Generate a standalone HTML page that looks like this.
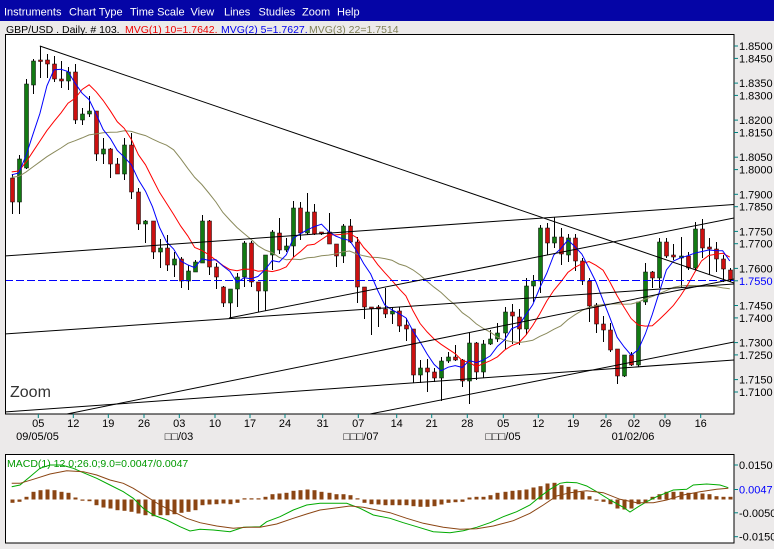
<!DOCTYPE html>
<html><head><meta charset="utf-8">
<style>
html,body{margin:0;padding:0;background:#ECEAEA;width:774px;height:549px;overflow:hidden}
svg{display:block}
text{font-family:"Liberation Sans",Arial,"DejaVu Sans",sans-serif}
</style></head><body>
<svg id="c" width="774" height="549" viewBox="0 0 774 549" xmlns="http://www.w3.org/2000/svg">
<defs>
<clipPath id="pc"><rect x="6" y="35" width="728" height="379"/></clipPath>
<clipPath id="mc"><rect x="6" y="455" width="728" height="88"/></clipPath>
</defs>
<rect x="0" y="0" width="774" height="549" fill="#ECEAEA"/>
<rect x="0" y="0" width="774" height="21" fill="#0505A6"/>
<g font-size="11" fill="#ffffff">
<text x="4" y="15.5">Instruments</text>
<text x="69" y="15.5">Chart Type</text>
<text x="130" y="15.5">Time Scale</text>
<text x="190.5" y="15.5">View</text>
<text x="224" y="15.5">Lines</text>
<text x="258.5" y="15.5">Studies</text>
<text x="302" y="15.5">Zoom</text>
<text x="337" y="15.5">Help</text>
</g>
<g font-size="10.5">
<text x="6" y="33" fill="#000">GBP/USD . Daily. # 103.</text>
<text x="125" y="33" fill="#ee0000">MVG(1) 10=1.7642.</text>
<text x="221" y="33" fill="#0000ee">MVG(2) 5=1.7627.</text>
<text x="309" y="33" fill="#808058">MVG(3) 22=1.7514</text>
</g>

<!-- main plot -->
<rect x="5.5" y="34.5" width="728.5" height="379.5" fill="#ffffff" stroke="#000" stroke-width="1"/>
<g clip-path="url(#pc)">
<g id="candles"></g>
<g id="mas"></g>
<line x1="5" y1="280.5" x2="734" y2="280.5" stroke="#0000ff" stroke-width="1" stroke-dasharray="8,3"/>
<g stroke="#000" stroke-width="1" fill="none">
<line x1="39.8" y1="46" x2="734" y2="283"/>
<line x1="5" y1="256" x2="734" y2="204.5"/>
<line x1="5" y1="334" x2="734" y2="284"/>
<line x1="5" y1="412" x2="734" y2="360"/>
<line x1="370" y1="414" x2="734" y2="342"/>
<line x1="67" y1="414" x2="734" y2="279"/>
<line x1="229" y1="318" x2="734" y2="218"/>
</g>
</g>
<text x="10" y="397" font-size="16" fill="#333">Zoom</text>

<!-- price axis -->
<g stroke="#008080" stroke-width="1">
<line x1="734" y1="46" x2="738" y2="46"/><line x1="734" y1="58.4" x2="738" y2="58.4"/>
<line x1="734" y1="83.1" x2="738" y2="83.1"/><line x1="734" y1="95.4" x2="738" y2="95.4"/>
<line x1="734" y1="120.1" x2="738" y2="120.1"/><line x1="734" y1="132.5" x2="738" y2="132.5"/>
<line x1="734" y1="157.2" x2="738" y2="157.2"/><line x1="734" y1="169.6" x2="738" y2="169.6"/>
<line x1="734" y1="194.3" x2="738" y2="194.3"/><line x1="734" y1="206.7" x2="738" y2="206.7"/>
<line x1="734" y1="231.4" x2="738" y2="231.4"/><line x1="734" y1="243.7" x2="738" y2="243.7"/>
<line x1="734" y1="268.4" x2="738" y2="268.4"/><line x1="734" y1="280.8" x2="738" y2="280.8"/>
<line x1="734" y1="305.5" x2="738" y2="305.5"/><line x1="734" y1="317.9" x2="738" y2="317.9"/>
<line x1="734" y1="342.6" x2="738" y2="342.6"/><line x1="734" y1="354.9" x2="738" y2="354.9"/>
<line x1="734" y1="379.6" x2="738" y2="379.6"/><line x1="734" y1="392" x2="738" y2="392"/>
</g>
<g font-size="11" fill="#000">
<text x="739" y="50">1.8500</text><text x="739" y="62.4">1.8450</text>
<text x="739" y="87.1">1.8350</text><text x="739" y="99.4">1.8300</text>
<text x="739" y="124.1">1.8200</text><text x="739" y="136.5">1.8150</text>
<text x="739" y="161.2">1.8050</text><text x="739" y="173.6">1.8000</text>
<text x="739" y="198.3">1.7900</text><text x="739" y="210.7">1.7850</text>
<text x="739" y="235.4">1.7750</text><text x="739" y="247.7">1.7700</text>
<text x="739" y="272.4">1.7600</text><text x="739" y="284.8" fill="#0000ff">1.7550</text>
<text x="739" y="309.5">1.7450</text><text x="739" y="321.9">1.7400</text>
<text x="739" y="346.6">1.7300</text><text x="739" y="358.9">1.7250</text>
<text x="739" y="383.6">1.7150</text><text x="739" y="396">1.7100</text>
</g>

<!-- x axis -->
<g id="xt" stroke="#008080" stroke-width="1"></g>
<g font-size="11" fill="#000" text-anchor="middle">
<text x="38.3" y="427">05</text><text x="73.3" y="427">12</text><text x="108.3" y="427">19</text>
<text x="144" y="427">26</text><text x="179.3" y="427">03</text><text x="215" y="427">10</text>
<text x="250" y="427">17</text><text x="285" y="427">24</text><text x="322.7" y="427">31</text>
<text x="358.3" y="427">07</text><text x="396.7" y="427">14</text><text x="431.7" y="427">21</text>
<text x="467.3" y="427">28</text><text x="503.3" y="427">05</text><text x="538.3" y="427">12</text>
<text x="573.3" y="427">19</text><text x="606" y="427">26</text><text x="634" y="427">02</text>
<text x="665" y="427">09</text><text x="700.7" y="427">16</text>
<text x="37.5" y="440">09/05/05</text>
<text x="179" y="440">□□/03</text>
<text x="361" y="440">□□□/07</text>
<text x="503" y="440">□□□/05</text>
<text x="633" y="440">01/02/06</text>
</g>

<!-- MACD panel -->
<rect x="5.5" y="454.5" width="728.5" height="88.5" fill="#ffffff" stroke="#000" stroke-width="1"/>
<g clip-path="url(#mc)">
<g id="hist" fill="#8B4513"></g>
<polyline fill="none" stroke="#00aa00" stroke-width="1" points="11.7,486.7 20,485 30,476.7 40,468.3 50,465 61.7,465 73.3,468.3 83.3,472.7 96.7,478.3 110,485 123.3,491.7 133.3,498.3 143.3,508.3 153.3,515 166.7,520 180,526.7 190,531 200,529.3 213.3,530 230,531.7 243.3,527.3 260,526.7 266.7,521.7 280,516.7 293.3,510 306.7,505 320,503.3 333.3,503.3 346.7,503.3 360,508.3 373.3,515 390,518.3 403.3,522.7 416.7,526.7 433.3,531.7 450,532.7 463.3,530.7 476.7,527.3 490,522.7 503.3,516.7 516.7,511.7 530,505 540,496.7 550,489.3 560,483.3 566.7,482.3 576.7,482.7 586.7,486 596.7,491.7 610,500 623.3,507.3 630,512 638.3,506.7 646.7,501.7 656.7,496.7 673.3,490 686.7,489.3 693.3,485 706.7,484 720,485 728.3,487.7"/>
<polyline fill="none" stroke="#8B4513" stroke-width="1" points="11.7,483.3 20,483.3 33.3,479.3 50,474 66.7,470.7 83.3,471.7 96.7,475 110,480 123.3,483.3 133.3,488.3 146.7,496.7 160,505 173.3,511.7 186.7,518.3 200,522.7 216.7,526 233.3,528.3 246.7,527.3 260,527.3 276.7,524 293.3,518.3 306.7,514 320,510 333.3,508.3 350,506 363.3,507.3 376.7,510 390,512.7 406.7,518.3 423.3,523.3 443.3,527.3 460,529.3 476.7,528.7 493.3,526 513.3,520.7 530,513.3 543.3,505 556.7,496 570,492.7 586.7,490.7 603.3,492.7 620,499.3 636.7,502.7 653.3,502.7 666.7,500 683.3,495 700,491.7 716.7,489.3 728.3,488.3"/>
</g>
<text x="7" y="467" font-size="10.5" fill="#009900">MACD(1) 12.0;26.0;9.0=0.0047/0.0047</text>
<g stroke="#008080" stroke-width="1">
<line x1="734" y1="465" x2="738" y2="465"/><line x1="734" y1="489.5" x2="738" y2="489.5"/>
<line x1="734" y1="512.8" x2="738" y2="512.8"/><line x1="734" y1="536.7" x2="738" y2="536.7"/>
</g>
<g font-size="11" fill="#000">
<text x="739" y="469">0.0150</text>
<text x="739" y="493.5" fill="#0000ff">0.0047</text>
<text x="739" y="516.8">-0.0050</text>
<text x="739" y="540.7">-0.0150</text>
</g>
</svg>
<script>
(function(){
var NS="http://www.w3.org/2000/svg";
function el(t,a,p){var e=document.createElementNS(NS,t);for(var k in a)e.setAttribute(k,a[k]);p.appendChild(e);return e;}
var D=[
['r',178,202,174,214],['g',159,202,155,214],['g',84,168,79,169],['g',61,85,59,94],['r',60,61.5,46,78],
['r',60,64,54,78],['r',64,79,56,82],['r',79,81,61,88],['g',72,81,67,90],['r',72,120,64,124],
['g',114,120,108,125],['g',111,114,96,117],['r',111,154,111,161],['g',149,154,138,164],['r',149,164,148,178],
['r',164,174,158,174],['g',145,174,138,180],['r',145,192,133,199],['r',192,224,188,230],['g',221,224,220,243],
['r',221,252,221,259],['g',248,252,239,268],['r',248,265,235,271],['g',259,265,252,277],['r',259,281,257,288],
['g',271,281,265,290],['g',262,272,260,272],['g',221,263,215,263],['r',221,267,220,275],['r',267,277,263,289],
['r',287,303,286,307],['g',289,303,289,318],['g',277,289,273,307],['g',243,277,241,287],['r',243,282,241,287],
['r',282,291,282,312],['g',255,291,255,311],['g',232,255,230,270],['r',233,250,218,254],['g',246,250,238,252],
['g',208,246,201,257],['r',208,233,202,240],['g',212,233,193,235],['r',212,234,204,235],['r',232,234,232,235],
['r',232,244,213,244],['r',244,256,244,267],['g',226,256,224,263],['r',226,242,219,243],['r',242,287,237,303],
['r',287,307,287,319],['r',307,308,307,335],['r',307,309,305,327],['r',309,314,288,318],['g',311,314,307,324],
['r',311,326,307,332],['r',325,329,318,341],['r',329,375,329,383],['g',368,375,360,383],['r',368,372,359,392],
['r',372,378,368,382],['g',361,378,357,401],['g',357,361,352,363],['r',357,360,345,361],['r',360,381,359,387],
['g',343,381,333,404],['r',343,372,342,380],['g',344,372,340,378],['g',339,344,330,345],['g',333,339,323,342],
['g',312,333,307,349],['r',312,316,304,344],['r',317,329,309,345],['g',286,329,278,335],['g',281,286,275,302],
['g',228,281,225,293],['r',228,243,223,255],['g',237,243,217,248],['r',237,254,228,265],['g',238,255,234,262],
['r',238,261,234,271],['r',261,281,258,285],['r',281,306,278,322],['r',305,324,303,333],['r',324,330,316,342],
['r',330,350,323,352],['r',349,376,349,384],['g',355,376,355,377],['r',355,365,352,366],['g',302,365,302,367],
['g',272,302,263,305],['r',272,278,271,288],['g',242,278,238,288],['r',242,256,238,258],['r',255,257,244,260],
['g',256,258,237,288],['r',256,268,252,270],['g',229,268,222,270],['r',229,248,219,258],['r',247,249,238,275],
['r',249,259,242,272],['r',259,269,255,282],['r',270,280,268,282]
];
function X(i){return 11.7+7.04*i;}
var gC=document.getElementById('candles');
var cl=[];
D.forEach(function(d,i){
  var cx=Math.round(X(i));
  el('line',{x1:cx+0.5,y1:d[3],x2:cx+0.5,y2:d[4],stroke:'#000','stroke-width':1},gC);
  var h=Math.max(d[2]-d[1],1.5);
  el('rect',{x:cx-1.5,y:d[1],width:4,height:h,fill:d[0]=='g'?'#127a12':'#cc1010',stroke:'#000','stroke-width':0.5},gC);
  cl.push(d[0]=='g'?d[1]:d[2]);
});
function ma(n,pad){return cl.map(function(c,i){var s=0;for(var k=i-n+1;k<=i;k++){s+=(k<0?pad:cl[k]);}return s/n;});}
var gM=document.getElementById('mas');
function poly(arr,color){var pts=arr.map(function(v,i){return X(i).toFixed(1)+','+v.toFixed(1);}).join(' ');
  el('polyline',{points:pts,fill:'none',stroke:color,'stroke-width':1},gM);}
poly(ma(22,176),'#8a8a5c');
poly(ma(10,168.6),'#ff0000');
poly(ma(5,168),'#0000ff');
var H=[-3.3,-2.3,2.7,7.7,9.3,10,9.3,7.7,6.7,2,-0.7,-1.7,-5.7,-8,-9,-10.7,-11.3,-12.3,-14,-15.7,-16.7,-15.7,-15.7,-14.7,-13.3,-12.3,-10.7,-5.7,-5,-4.7,-4,-4.7,-3.3,0.7,0.7,1,2.7,5.3,6,6.7,8.7,9.3,10,9.3,7.7,6.7,5.3,5.3,4.3,1,-3.3,-4.7,-5,-5.7,
-5.7,-5.7,-5.7,-6.7,-7.3,-7.3,-6.7,-5,-3.3,-2.7,-2.3,2,2.7,2.7,4.3,6.7,7.7,8.7,9.3,10,12,13.3,16,16.7,14.3,12.7,10,7.7,3.3,-0.7,-2.3,-4.7,-9,-10,-9,-4.7,-3.3,2.7,5.3,7.7,7.7,7.7,6.7,6.7,6,5.3,3.3,2.7,2.7];
var gH=document.getElementById('hist');var z=499.5;
H.forEach(function(h,i){var cx=Math.round(X(i));var a=Math.max(Math.abs(h),1.2);
  el('rect',{x:cx-1.5,y:h>0?z-a:z,width:4,height:a},gH);});
var gT=document.getElementById('xt');
[38.3,73.3,108.3,144,179.3,215,250,285,322.7,358.3,396.7,431.7,467.3,503.3,538.3,573.3,606,634,665,700.7].forEach(function(x){
  el('line',{x1:x,y1:414,x2:x,y2:418},gT);});
})();
</script>
</body></html>
